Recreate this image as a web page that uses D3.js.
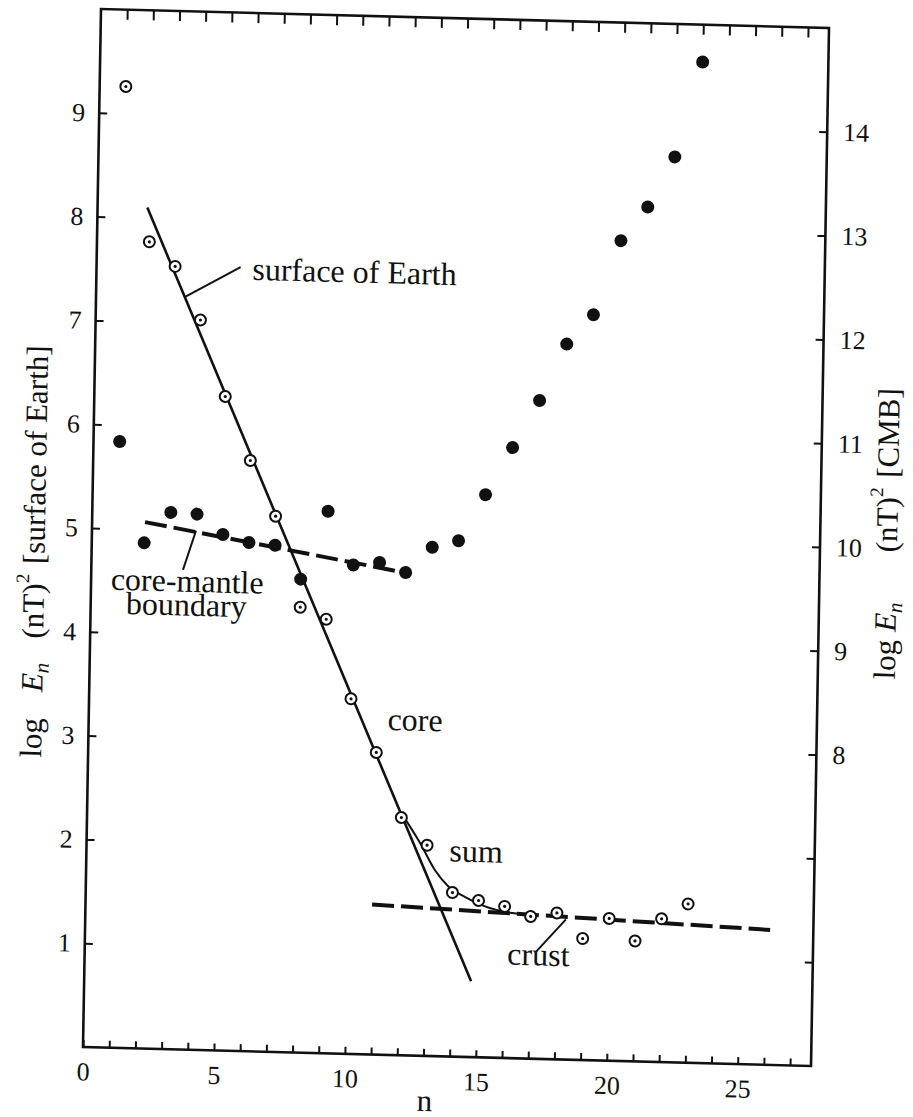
<!DOCTYPE html>
<html>
<head>
	<meta charset="utf-8">
	<title>log En</title>
	<style>
	body { margin: 0; background: #fff; }
	text { font-family: "Liberation Serif", "Times New Roman", serif; fill: #111; }
	.note { font-size: 32px; }
	.title { font-size: 31px; }
	</style>
	<script src="https://d3js.org/d3.v7.min.js"></script>
</head>
<body>
	<script type="text/javascript">
		// spherical harmonic degree
		var degree = [1, 2, 3, 4, 5, 6, 7, 8, 9, 10, 11, 12, 13, 14, 15, 16, 17, 18, 19, 20, 21, 22, 23];
		// log En at the surface of the Earth (left axis)
		var surfaceEn = [9.26, 7.77, 7.54, 7.03, 6.30, 5.69, 5.16, 4.29, 4.18, 3.42, 2.91, 2.29, 2.03, 1.58, 1.51, 1.46, 1.37, 1.41, 1.17, 1.37, 1.16, 1.38, 1.53];
		// log En at the core-mantle boundary (right axis)
		var cmbEn = [10.84, 9.87, 10.17, 10.16, 9.97, 9.90, 9.88, 9.56, 10.22, 9.71, 9.74, 9.65, 9.90, 9.97, 10.42, 10.88, 11.34, 11.89, 12.18, 12.90, 13.23, 13.72, 14.64];
		// fitted lines
		var coreLine = [[1.9, 8.10], [14.77, 0.73]];
		var sumCurve = [[12.0, 2.33], [12.73, 2.05], [13.32, 1.79], [13.83, 1.64], [14.49, 1.54], [15.25, 1.455], [16.21, 1.40], [16.6, 1.39]];
		var crustLine = [[10.94, 1.445], [26.15, 1.30]];
		var mantleLine = [[2.02, 10.07], [11.94, 9.65]];
		// ticks
		var xTicks = [0, 1, 2, 3, 4, 5, 6, 7, 8, 9, 10, 11, 12, 13, 14, 15, 16, 17, 18, 19, 20, 21, 22, 23, 24, 25, 26, 27];
		var xLabels = [0, 5, 10, 15, 20, 25];
		var leftTicks = [1, 2, 3, 4, 5, 6, 7, 8, 9];
		var rightTicks = [6, 7, 8, 9, 10, 11, 12, 13, 14];
		var rightLabels = [8, 9, 10, 11, 12, 13, 14];

		var W = 728, H = 1038;

		var svg = d3.select('body').append('svg')
			.attr('width', 913)
			.attr('height', 1117);

		// the scanned page sits a little crooked
		var g = svg.append('g')
			.attr('transform', 'matrix(1,0.0261,-0.01734,1,101,9)');

		var x = d3.scaleLinear().domain([0, 27.8]).range([0, W]);
		var yL = d3.scaleLinear().domain([0, 10]).range([H, 0]);
		var yR = d3.scaleLinear().domain([5, 15]).range([H, 0]);

		function styleAxis(sel) {
			sel.select('.domain').remove();
			sel.selectAll('line').attr('stroke', '#111').attr('stroke-width', 2);
			sel.selectAll('text').attr('font-family', '"Liberation Serif", serif').attr('font-size', 26).attr('fill', '#111');
		}

		g.append('g')
			.attr('transform', 'translate(0,' + H + ')')
			.call(d3.axisBottom(x).tickValues(xTicks).tickSize(-7).tickPadding(15)
				.tickFormat(function (d) { return xLabels.indexOf(d) >= 0 ? d : ''; }))
			.call(styleAxis);

		g.append('g')
			.call(d3.axisTop(x).tickValues(xTicks.slice(1)).tickSize(-10).tickFormat(''))
			.call(styleAxis);

		g.append('g')
			.call(d3.axisLeft(yL).tickValues(leftTicks).tickSize(-8).tickPadding(14))
			.call(styleAxis);

		g.append('g')
			.attr('transform', 'translate(' + W + ',0)')
			.call(d3.axisRight(yR).tickValues(rightTicks).tickSize(-8).tickPadding(16)
				.tickFormat(function (d) { return rightLabels.indexOf(d) >= 0 ? d : ''; }))
			.call(styleAxis);

		// frame
		g.append('rect')
			.attr('width', W)
			.attr('height', H)
			.attr('fill', 'none')
			.attr('stroke', '#111')
			.attr('stroke-width', 2.6);

		var lineL = d3.line().x(function (d) { return x(d[0]); }).y(function (d) { return yL(d[1]); });
		var lineR = d3.line().x(function (d) { return x(d[0]); }).y(function (d) { return yR(d[1]); });

		g.append('path').attr('d', lineL(coreLine))
			.attr('fill', 'none').attr('stroke', '#111').attr('stroke-width', 2.6);
		g.append('path').attr('d', lineL.curve(d3.curveMonotoneX)(sumCurve))
			.attr('fill', 'none').attr('stroke', '#111').attr('stroke-width', 2);
		lineL.curve(d3.curveLinear);
		g.append('path').attr('d', lineL(crustLine))
			.attr('fill', 'none').attr('stroke', '#111').attr('stroke-width', 4)
			.attr('stroke-dasharray', '22,7');
		g.append('path').attr('d', lineR(mantleLine))
			.attr('fill', 'none').attr('stroke', '#111').attr('stroke-width', 4)
			.attr('stroke-dasharray', '22,7');

		// leaders
		var leaders = [
			[[3.4, 7.25], [5.5, 7.55]],
			[[3.97, 5.0], [3.5, 4.62]],
			[[17.19, 1.02], [18.35, 1.35]]
		];
		g.selectAll('.leader')
			.data(leaders)
			.enter()
			.append('path')
			.attr('class', 'leader')
			.attr('d', function (d) { return lineL(d); })
			.attr('stroke', '#111')
			.attr('stroke-width', 2);

		// CMB points
		g.selectAll('.cmb')
			.data(degree)
			.enter()
			.append('circle')
			.attr('class', 'cmb')
			.attr('cx', function (d) { return x(d); })
			.attr('cy', function (d, i) { return yR(cmbEn[i]); })
			.attr('r', 6.5)
			.attr('fill', '#111');

		// surface points
		var sp = g.selectAll('.surf')
			.data(degree)
			.enter()
			.append('g')
			.attr('class', 'surf')
			.attr('transform', function (d, i) {
				return 'translate(' + x(d) + ',' + yL(surfaceEn[i]) + ')';
			});
		sp.append('circle')
			.attr('r', 5.5)
			.attr('fill', '#fff')
			.attr('stroke', '#111')
			.attr('stroke-width', 2);
		sp.append('circle')
			.attr('r', 1.6)
			.attr('fill', '#111');

		// labels in the plot
		var notes = [
			{ t: 'surface of Earth', n: 5.95, v: 7.43, a: 'start' },
			{ t: 'core-mantle', n: 3.67, v: 4.41, a: 'middle' },
			{ t: 'boundary', n: 3.65, v: 4.18, a: 'middle' },
			{ t: 'core', n: 12.46, v: 3.13, a: 'middle' },
			{ t: 'sum', n: 14.88, v: 1.88, a: 'middle' },
			{ t: 'crust', n: 17.32, v: 0.90, a: 'middle' }
		];
		g.selectAll('.note')
			.data(notes)
			.enter()
			.append('text')
			.attr('class', 'note')
			.attr('x', function (d) { return x(d.n); })
			.attr('y', function (d) { return yL(d.v); })
			.attr('text-anchor', function (d) { return d.a; })
			.text(function (d) { return d.t; });

		// x title
		g.append('text')
			.attr('class', 'title')
			.attr('x', W * 0.47)
			.attr('y', H + 55)
			.attr('text-anchor', 'middle')
			.text('n');

		// y titles
		function yTitle(px, py, gaps, tail) {
			var t = g.append('text')
				.attr('class', 'title')
				.attr('transform', 'translate(' + px + ',' + py + ') rotate(-90)')
				.attr('text-anchor', 'middle');
			t.append('tspan').text('log');
			t.append('tspan').attr('dx', gaps[0]).attr('font-style', 'italic').text('E');
			t.append('tspan').attr('dy', 6).attr('font-size', 21).attr('font-style', 'italic').text('n');
			t.append('tspan').attr('dx', gaps[1]).attr('dy', -6).text('(nT)');
			t.append('tspan').attr('dy', -15).attr('font-size', 19).text('2');
			t.append('tspan').attr('dx', gaps[2]).attr('dy', 15).text(tail);
		}
		yTitle(-47, 544, [26, 24, 10], '[surface of Earth]');
		yTitle(805, 504, [8, 50, 10], '[CMB]');
	</script>
</body>
</html>
